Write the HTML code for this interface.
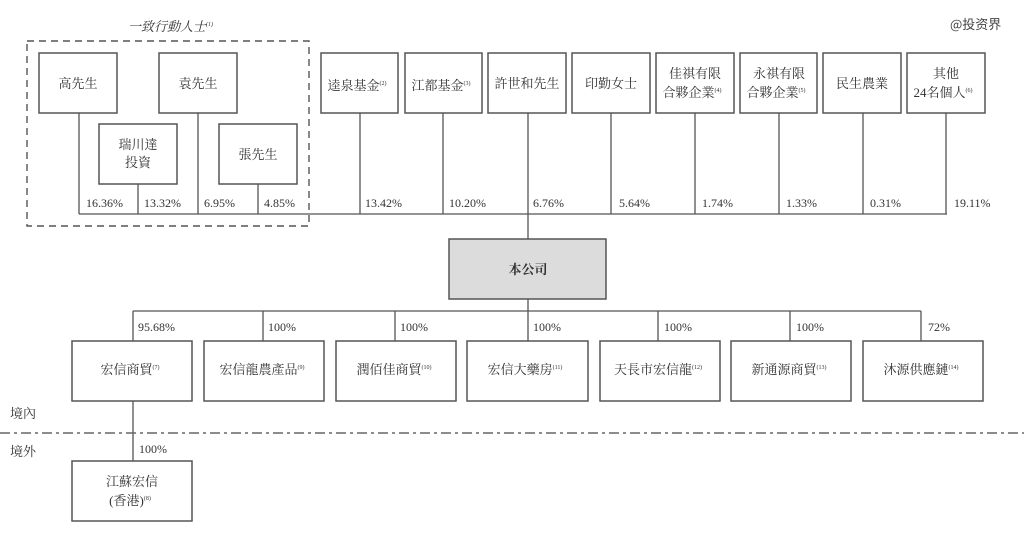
<!DOCTYPE html>
<html><head><meta charset="utf-8"><style>
html,body{margin:0;padding:0;background:#fff;}
svg{display:block;}
text{font-family:"Liberation Serif","Noto Serif CJK SC","Noto Serif CJK TC",serif;fill:#333;}
.b{fill:#fff;stroke:#555;stroke-width:1.5;}
.l{stroke:#555;stroke-width:1.3;fill:none;}
.t{font-size:13px;text-anchor:middle;}
.p{font-size:12px;}
.s{font-size:6px;}
</style></head><body>
<svg width="1024" height="537" viewBox="0 0 1024 537" xmlns="http://www.w3.org/2000/svg">
<text x="950" y="29" style="font-size:13px;font-family:'Noto Sans CJK SC',sans-serif;fill:#444">@投资界</text>
<text x="128" y="31" style="font-size:13px;font-style:italic">一致行動人士<tspan class="s" dy="-5">(1)</tspan></text>
<rect x="27" y="41" width="282" height="185" fill="none" stroke="#555" stroke-width="1.4" stroke-dasharray="7,5"/>
<!-- lines top -->
<path class="l" d="M79 214H947 M79 113V214 M138 184V214 M198 113V214 M258 184V214 M360 113V214 M443 113V214 M528 113V239 M611 113V214 M695 113V214 M779 113V214 M863 113V214 M946 113V214"/>
<!-- top boxes -->
<rect class="b" x="39" y="53" width="78" height="60"/><text class="t" x="78" y="88">高先生</text>
<rect class="b" x="159" y="53" width="78" height="60"/><text class="t" x="198" y="88">袁先生</text>
<rect class="b" x="99" y="124" width="78" height="60"/><text class="t" x="138" y="149">瑞川達</text><text class="t" x="138" y="167">投資</text>
<rect class="b" x="219" y="124" width="78" height="60"/><text class="t" x="258" y="159">張先生</text>
<rect class="b" x="321" y="53" width="77" height="60"/><text class="t" x="357" y="90">逵泉基金<tspan class="s" dy="-5">(2)</tspan></text>
<rect class="b" x="405" y="53" width="77" height="60"/><text class="t" x="441" y="90">江都基金<tspan class="s" dy="-5">(3)</tspan></text>
<rect class="b" x="488" y="53" width="78" height="60"/><text class="t" x="527" y="88">許世和先生</text>
<rect class="b" x="572" y="53" width="78" height="60"/><text class="t" x="611" y="88">印勤女士</text>
<rect class="b" x="656" y="53" width="78" height="60"/><text class="t" x="695" y="78">佳祺有限</text><text class="t" x="692" y="97">合夥企業<tspan class="s" dy="-5">(4)</tspan></text>
<rect class="b" x="740" y="53" width="77" height="60"/><text class="t" x="779" y="78">永祺有限</text><text class="t" x="776" y="97">合夥企業<tspan class="s" dy="-5">(5)</tspan></text>
<rect class="b" x="823" y="53" width="78" height="60"/><text class="t" x="862" y="88">民生農業</text>
<rect class="b" x="907" y="53" width="78" height="60"/><text class="t" x="946" y="78">其他</text><text class="t" x="943" y="97">24名個人<tspan class="s" dy="-5">(6)</tspan></text>
<!-- percents top -->
<g class="p">
<text x="86" y="207">16.36%</text><text x="144" y="207">13.32%</text><text x="204" y="207">6.95%</text><text x="264" y="207">4.85%</text>
<text x="365" y="207">13.42%</text><text x="449" y="207">10.20%</text><text x="533" y="207">6.76%</text><text x="619" y="207">5.64%</text>
<text x="702" y="207">1.74%</text><text x="786" y="207">1.33%</text><text x="870" y="207">0.31%</text><text x="954" y="207">19.11%</text>
</g>
<!-- main -->
<rect x="449" y="239" width="157" height="60" fill="#dcdcdc" stroke="#555" stroke-width="1.5"/>
<text class="t" x="528" y="274" style="font-weight:bold">本公司</text>
<path class="l" d="M528 299V311 M133 311H921 M133 311V341 M263 311V341 M395 311V341 M528 311V341 M658 311V341 M790 311V341 M921 311V341 M133 401V461"/>
<g class="p">
<text x="138" y="331">95.68%</text><text x="268" y="331">100%</text><text x="400" y="331">100%</text><text x="533" y="331">100%</text>
<text x="664" y="331">100%</text><text x="796" y="331">100%</text><text x="928" y="331">72%</text>
<text x="139" y="453">100%</text>
</g>
<rect class="b" x="72" y="341" width="120" height="60"/><text class="t" x="130" y="374">宏信商貿<tspan class="s" dy="-5">(7)</tspan></text>
<rect class="b" x="204" y="341" width="120" height="60"/><text class="t" x="262" y="374">宏信龍農產品<tspan class="s" dy="-5">(9)</tspan></text>
<rect class="b" x="336" y="341" width="120" height="60"/><text class="t" x="394" y="374">潤佰佳商貿<tspan class="s" dy="-5">(10)</tspan></text>
<rect class="b" x="467" y="341" width="121" height="60"/><text class="t" x="525" y="374">宏信大藥房<tspan class="s" dy="-5">(11)</tspan></text>
<rect class="b" x="600" y="341" width="120" height="60"/><text class="t" x="658" y="374">天長市宏信龍<tspan class="s" dy="-5">(12)</tspan></text>
<rect class="b" x="731" y="341" width="120" height="60"/><text class="t" x="789" y="374">新通源商貿<tspan class="s" dy="-5">(13)</tspan></text>
<rect class="b" x="863" y="341" width="120" height="60"/><text class="t" x="921" y="374">沐源供應鏈<tspan class="s" dy="-5">(14)</tspan></text>
<text x="10" y="418" style="font-size:13px">境內</text>
<line x1="0" y1="433" x2="1024" y2="433" stroke="#666" stroke-width="1.5" stroke-dasharray="10,4,3,4"/>
<text x="10" y="456" style="font-size:13px">境外</text>
<rect class="b" x="72" y="461" width="120" height="60"/><text class="t" x="132" y="486">江蘇宏信</text><text class="t" x="130" y="505">(香港)<tspan class="s" dy="-5">(8)</tspan></text>
</svg>
</body></html>
